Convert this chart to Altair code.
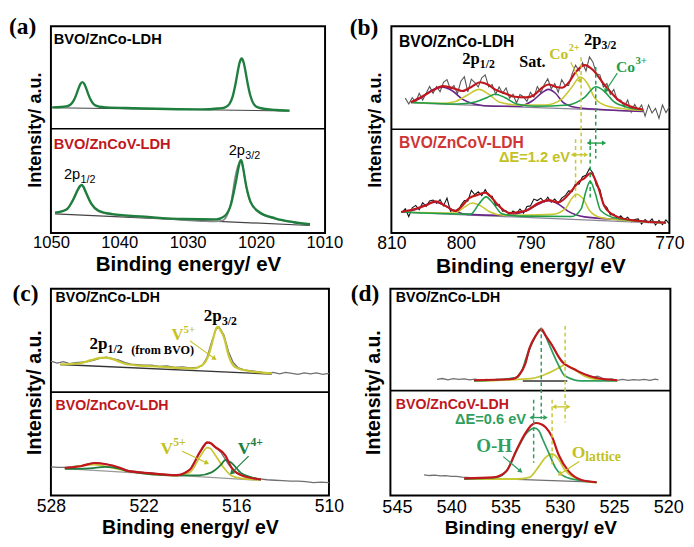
import math
import altair as alt
import pandas as pd

SANS = "Liberation Sans"
SERIF = "Liberation Serif"
RED = "#c0161c"
RED_B = "#cf3535"
GRN_A = "#1e7e3e"
GRN = "#1f9e4a"
GRN_D = "#2f9e5e"
YEL = "#c8c834"
YEL_T = "#c2c224"
PUR = "#6a2589"
RAW = "#707070"
BASE = "#8a8596"

# ---------------- (a) Zn 2p ----------------
A_TOP_FIT_X = [1049.8, 1048.5, 1047.8, 1047.2, 1046.7, 1046.3, 1046.0, 1045.7, 1045.4, 1045.1, 1044.8, 1044.5, 1044.1, 1043.6, 1042.9, 1041.9, 1038.0, 1033.0, 1028.0, 1025.6, 1024.6, 1023.9, 1023.4, 1023.0, 1022.7, 1022.4, 1022.1, 1021.8, 1021.5, 1021.2, 1020.8, 1020.3, 1019.6, 1018.6, 1017.0, 1015.1]
A_TOP_FIT_Y = [127.7, 128.0, 128.6, 130.1, 134.2, 140.4, 146.2, 151.3, 153.3, 151.3, 146.2, 140.4, 134.2, 130.0, 128.3, 127.6, 126.8, 126.0, 125.6, 126.5, 127.5, 130.9, 139.1, 151.4, 162.9, 173.1, 177.3, 173.0, 162.7, 151.2, 138.9, 130.7, 127.3, 126.0, 125.0, 124.3]
A_TOP_BASE_X = [1049.8, 1015.1]
A_TOP_BASE_Y = [127.3, 124.0]
A_BOT_RAW_X = [1049.4, 1047.7, 1046.8, 1046.0, 1045.5, 1044.9, 1044.1, 1043.0, 1041.0, 1036.3, 1030.6, 1027.5, 1026.0, 1025.0, 1024.3, 1023.6, 1023.1, 1022.6, 1022.2, 1021.9, 1021.4, 1020.8, 1019.6, 1017.2, 1014.4, 1012.1]
A_BOT_RAW_Y = [20.2, 24.5, 32.5, 44.0, 48.5, 41.0, 29.5, 22.0, 18.8, 16.0, 13.2, 12.0, 11.8, 12.5, 17.0, 33.0, 55.0, 69.0, 73.5, 66.0, 46.0, 31.0, 21.0, 14.6, 10.6, 8.6]
A_BOT_FIT_X = [1049.4, 1047.7, 1046.8, 1046.0, 1045.75, 1045.5, 1045.25, 1044.9, 1044.1, 1043.0, 1041.0, 1036.3, 1030.6, 1025.8, 1024.6, 1023.7, 1023.0, 1022.5, 1022.35, 1022.2, 1022.05, 1021.9, 1021.4, 1020.8, 1019.6, 1017.2, 1014.4, 1012.1]
A_BOT_FIT_Y = [20.7, 24.0, 33.3, 45.0, 47.8, 49.0, 47.2, 41.7, 30.0, 22.7, 19.3, 16.7, 14.3, 14.0, 17.3, 28.3, 50.0, 68.3, 72.5, 74.3, 72.0, 66.7, 46.7, 31.7, 21.7, 15.0, 11.0, 9.0]
A_BOT_BASE_X = [1049.4, 1012.1]
A_BOT_BASE_Y = [19.5, 7.7]
A_TICKS = [1050, 1040, 1030, 1020, 1010]

# ---------------- (b) Co 2p ----------------
B_RAW_X_TOP = [808.0, 807.5, 807.0, 806.5, 806.0, 805.5, 805.0, 804.5, 804.0, 803.5, 803.0, 802.5, 802.0, 801.5, 801.0, 800.5, 800.0, 799.5, 799.0, 798.5, 798.0, 797.5, 797.0, 796.5, 796.0, 795.5, 795.0, 794.5, 794.0, 793.5, 793.0, 792.5, 792.0, 791.5, 791.0, 790.5, 790.0, 789.5, 789.0, 788.5, 788.0, 787.5, 787.0, 786.5, 786.0, 785.5, 785.0, 784.5, 784.0, 783.5, 783.0, 782.5, 782.0, 781.5, 781.0, 780.5, 780.0, 779.5, 779.0, 778.5, 778.0, 777.5, 777.0, 776.5, 776.0, 775.5, 775.0, 774.5, 774.0, 773.5, 773.0, 772.5, 772.0, 771.5, 771.0, 770.5, 770.0]
B_RAW_Y_TOP = [139, 133, 139.5, 135, 144, 137, 144, 151, 144, 151, 145.5, 155.3, 158, 148, 152, 143.5, 156.5, 161, 145.5, 158.5, 155, 150.5, 160, 163, 150.5, 153, 143, 150.5, 144, 149.5, 139, 143, 134, 142.7, 140.5, 135.7, 145, 140, 151, 144.5, 153, 159, 148.5, 154, 145, 158, 152, 152, 164, 173, 167, 175.5, 167, 181.5, 176, 164, 163, 150.5, 154, 143, 148, 137, 137, 130, 137, 124.5, 132.5, 126.7, 132, 120.5, 132, 123.7, 128.5, 118.2, 132, 124, 130]
B_RAW_X_BOT = [808.5] + B_RAW_X_TOP
B_RAW_Y_BOT = [21, 25, 17, 26, 28.5, 24, 31.3, 27.5, 33, 34, 30.7, 34.5, 28, 36, 22.5, 24, 21, 28.7, 33.5, 33, 44, 39.5, 42.5, 38.5, 44.7, 38.5, 38, 28.5, 29.5, 22.5, 23, 18.7, 22.8, 20.3, 24.8, 20.5, 27.5, 28, 35, 33.5, 36, 32, 37, 31.8, 35, 30.7, 36, 38.5, 43.5, 42.8, 51, 50.5, 58, 59.5, 66.5, 62, 49, 45, 29.5, 26.5, 18.7, 19.5, 14.7, 17.8, 14, 16.3, 11.7, 14, 14.6, 9.3, 14, 10.8, 14.5, 8.2, 13, 8.8, 13.7, 9.5]

B_TOP_ENV_X = [807.2, 805.5, 804.0, 802.6, 801.0, 799.8, 798.5, 797.2, 796.0, 795.1, 793.5, 792.5, 790.6, 789.5, 788.3, 787.4, 786.3, 785.5, 784.5, 783.6, 782.2, 781.0, 779.4, 778.3, 777.5, 775.7, 773.8]
B_TOP_ENV_Y = [134.7, 141.0, 147.0, 151.3, 149.0, 146.3, 150.5, 155.3, 152.5, 148.0, 143.5, 140.7, 139.7, 142.0, 149.7, 153.0, 150.5, 149.7, 155.0, 164.7, 173.0, 168.0, 153.0, 144.0, 138.0, 130.7, 127.3]
B_TOP_PUR_X = [807.2, 805.6, 804.2, 802.6, 801.2, 799.8, 798.1, 795.3, 791.7, 789.7, 788.3, 787.4, 786.4, 785.3, 783.6, 779.9, 773.8]
B_TOP_PUR_Y = [134.7, 139.7, 147.3, 150.3, 146.3, 138.0, 133.0, 130.7, 130.7, 136.3, 144.7, 148.0, 144.0, 134.7, 129.7, 127.3, 125.3]
B_TOP_YEL_X = [807.2, 803.0, 800.9, 799.1, 797.4, 796.0, 794.4, 791.7, 787.8, 785.5, 784.1, 782.8, 781.7, 780.8, 779.4, 776.6, 773.8]
B_TOP_YEL_Y = [134.7, 133.6, 135.3, 142.0, 148.0, 143.0, 134.7, 132.0, 132.0, 138.0, 149.7, 160.7, 153.0, 139.7, 132.0, 128.0, 126.3]
B_TOP_GRN_X = [807.2, 800.5, 798.1, 796.2, 795.1, 793.7, 792.0, 789.2, 784.6, 782.2, 780.6, 779.4, 778.0, 776.1, 773.8]
B_TOP_GRN_Y = [134.7, 132.9, 134.7, 139.7, 143.0, 139.7, 133.0, 130.7, 132.0, 139.7, 150.7, 146.3, 135.3, 129.7, 127.0]
B_TOP_BASE_X = [807.2, 773.8]
B_TOP_BASE_Y = [134.0, 125.3]

B_BOT_ENV_X = [808.6, 806.5, 805.1, 803.7, 801.9, 800.9, 800.0, 798.8, 797.6, 796.5, 795.5, 794.8, 793.9, 793.0, 791.6, 790.6, 788.8, 787.4, 786.0, 784.1, 783.2, 782.2, 781.3, 780.3, 779.4, 778.5, 777.5, 774.7, 770.5]
B_BOT_ENV_Y = [21.7, 25.0, 28.3, 32.7, 26.7, 22.7, 26.7, 36.0, 39.3, 41.7, 36.0, 30.0, 24.0, 20.7, 21.7, 23.3, 31.0, 34.0, 31.7, 43.3, 51.7, 56.7, 61.7, 48.3, 28.3, 20.7, 16.7, 12.7, 10.7]
B_BOT_PUR_X = [808.6, 806.5, 805.1, 803.7, 802.3, 800.9, 799.1, 793.9, 790.6, 788.8, 787.4, 786.0, 784.6, 782.2, 777.5, 770.5]
B_BOT_PUR_Y = [21.7, 24.3, 29.0, 31.7, 28.3, 22.7, 19.3, 18.3, 22.7, 30.0, 33.3, 30.0, 22.7, 16.7, 14.0, 10.7]
B_BOT_YEL_X = [808.6, 800.9, 799.5, 798.4, 797.2, 795.8, 793.9, 786.9, 785.0, 784.1, 783.4, 782.4, 781.5, 779.9, 776.6, 770.5]
B_BOT_YEL_Y = [21.7, 20.7, 26.7, 31.0, 28.3, 21.7, 18.3, 19.3, 25.0, 35.0, 40.0, 35.0, 23.3, 16.0, 13.3, 10.7]
B_BOT_GRN_X = [808.6, 798.6, 797.4, 796.4, 795.3, 794.1, 791.6, 784.1, 782.7, 782.0, 781.4, 780.7, 779.9, 777.5, 770.5]
B_BOT_GRN_Y = [21.7, 19.5, 30.0, 37.3, 30.0, 20.0, 17.5, 17.0, 25.0, 43.3, 53.3, 41.7, 23.3, 15.0, 10.7]
B_BOT_BASE_X = [808.6, 770.5]
B_BOT_BASE_Y = [21.5, 10.0]
B_TICKS = [810, 800, 790, 780, 770]

# ---------------- (c) V 2p ----------------
C_TOP_RAW_X = [528.0, 527.6, 527.2, 526.8, 526.4, 526.0, 525.6, 525.2, 524.8, 524.4, 524.0, 523.6, 523.2, 522.8, 522.4, 522.0, 521.5, 521.0, 520.5, 520.0, 519.5, 519.0, 518.5, 518.2, 517.9, 517.6, 517.3, 517.1, 516.8, 516.5, 516.2, 515.9, 515.5, 515.0, 514.5, 514.0, 513.6, 513.2, 512.8, 512.4, 512.0, 511.6, 511.2, 510.8, 510.4, 510.0]
C_TOP_RAW_Y = [136.5, 134.5, 136.0, 134.0, 135.0, 135.5, 136.0, 137.5, 139.5, 140.5, 139.0, 137.5, 135.0, 133.5, 133.0, 132.5, 132.5, 131.0, 131.5, 130.0, 130.5, 129.5, 130.0, 132.0, 140.0, 156.0, 169.0, 171.0, 163.0, 146.0, 135.0, 130.0, 127.5, 126.5, 125.5, 124.0, 125.0, 123.5, 125.0, 124.0, 123.0, 124.5, 123.5, 124.5, 123.0, 124.0]
C_TOP_YEL_X = [527.4, 526.2, 525.4, 524.9, 524.5, 524.1, 523.7, 523.1, 520.9, 518.8, 518.2, 517.8, 517.5, 517.35, 517.2, 517.05, 516.8, 516.5, 516.1, 515.3, 513.7]
C_TOP_YEL_Y = [133.0, 134.0, 137.5, 139.5, 140.0, 139.0, 136.7, 133.3, 130.7, 129.0, 132.3, 142.3, 159.0, 168.0, 171.3, 168.5, 160.7, 142.3, 130.7, 126.7, 124.0]
C_TOP_BASE_X = [527.4, 513.7]
C_TOP_BASE_Y = [133.0, 123.3]
C_BOT_RAW_X = [528.0, 527.5, 527.0, 526.5, 526.0, 525.5, 525.0, 524.5, 524.0, 523.5, 523.0, 522.5, 522.0, 521.5, 521.0, 520.5, 520.0, 519.5, 519.0, 518.5, 518.0, 517.75, 517.5, 517.0, 516.5, 516.0, 515.5, 515.0, 514.5, 514.0, 513.5, 513.0, 512.5, 512.0, 511.5, 511.0, 510.5, 510.0]
C_BOT_RAW_Y = [29.0, 28.5, 28.5, 29.5, 30.5, 32.5, 33.5, 32.0, 30.5, 28.0, 25.5, 24.5, 23.5, 23.0, 22.0, 21.5, 21.0, 21.5, 26.5, 40.0, 52.0, 54.0, 51.0, 44.0, 31.5, 23.5, 20.0, 18.5, 17.0, 16.0, 15.5, 15.0, 14.5, 14.5, 14.0, 13.0, 13.5, 13.0]
C_BOT_ENV_X = [527.1, 526.0, 525.2, 524.5, 523.5, 523.1, 521.5, 519.9, 519.0, 518.4, 518.1, 517.9, 517.65, 517.4, 516.7, 516.3, 515.7, 514.4]
C_BOT_ENV_Y = [28.0, 30.0, 33.0, 32.0, 28.0, 25.3, 22.5, 20.7, 26.3, 43.0, 50.5, 54.0, 53.0, 49.7, 40.5, 28.0, 20.7, 16.3]
C_BOT_YEL_X = [527.1, 525.2, 524.3, 523.1, 519.9, 519.0, 518.4, 518.1, 517.9, 517.7, 517.4, 516.9, 516.3, 515.7, 514.4]
C_BOT_YEL_Y = [27.3, 31.3, 29.0, 25.0, 20.3, 23.5, 38.0, 45.5, 48.7, 48.0, 42.0, 30.0, 20.0, 17.5, 16.0]
C_BOT_GRN_X = [527.1, 525.5, 524.5, 523.5, 523.1, 519.9, 518.4, 517.6, 517.0, 516.7, 516.3, 515.7, 515.0, 514.4]
C_BOT_GRN_Y = [27.0, 27.5, 29.0, 27.0, 25.0, 20.3, 20.5, 23.5, 31.0, 36.3, 33.0, 23.0, 18.3, 16.3]
C_BOT_BASE_X = [527.1, 514.4]
C_BOT_BASE_Y = [27.3, 15.3]
C_TICKS = [528, 522, 516, 510]

# ---------------- (d) O 1s ----------------
D_TOP_RAW_X = [541.3, 540.8, 540.3, 539.8, 539.3, 538.8, 538.3, 537.8, 537.3, 536.8, 536.3, 535.8, 535.3, 534.8, 534.3, 533.9, 533.5, 533.1, 532.7, 532.3, 531.9, 531.6, 531.3, 530.9, 530.5, 530.1, 529.7, 529.3, 528.9, 528.5, 528.1, 527.7, 527.3, 526.9, 526.5, 526.1, 525.7, 525.2, 524.7, 524.2, 523.7, 523.2, 522.7, 522.2, 521.7, 521.2, 520.9]
D_TOP_RAW_Y = [119.7, 120.5, 119.2, 120.3, 119.5, 120.2, 119.0, 119.8, 118.7, 119.5, 118.8, 119.6, 119.2, 120.0, 120.3, 122.5, 129.0, 138.0, 153.5, 163.0, 170.5, 171.0, 165.0, 158.0, 151.0, 143.0, 137.5, 134.0, 131.5, 129.0, 127.0, 125.0, 123.5, 122.0, 122.8, 121.0, 119.5, 120.0, 118.7, 119.5, 118.5, 119.3, 118.8, 119.6, 118.7, 119.8, 119.2]
D_TOP_ENV_X = [537.9, 534.6, 534.1, 533.7, 533.2, 532.8, 532.2, 531.7, 531.3, 530.7, 530.2, 529.8, 529.2, 528.6, 528.0, 527.4, 526.5, 524.7]
D_TOP_ENV_Y = [118.7, 119.7, 120.7, 124.7, 134.7, 151.3, 164.7, 171.3, 164.7, 154.7, 144.7, 138.0, 133.0, 129.7, 126.3, 123.7, 120.7, 118.7]
D_TOP_GRN_X = [537.9, 534.0, 533.5, 533.1, 532.5, 532.1, 531.8, 531.4, 531.0, 530.2, 529.5, 528.0, 524.7]
D_TOP_GRN_Y = [118.0, 121.3, 128.0, 141.3, 158.0, 166.5, 170.3, 166.5, 156.3, 136.3, 123.0, 118.0, 118.0]
D_TOP_YEL_X = [537.9, 532.5, 531.0, 530.1, 529.5, 528.9, 527.7, 526.5, 524.7]
D_TOP_YEL_Y = [118.0, 120.7, 126.3, 131.3, 134.7, 131.3, 123.0, 119.3, 118.0]
D_TOP_BASE_X = [533.4, 529.3]
D_TOP_BASE_Y = [118.0, 118.0]
D_BOT_RAW_X = [542.5, 542.0, 541.5, 541.0, 540.5, 540.0, 539.5, 539.0, 538.5, 538.0, 536.0, 534.0, 532.0, 530.0, 528.0, 526.6]
D_BOT_RAW_Y = [21.3, 20.6, 21.0, 20.2, 20.4, 19.6, 19.8, 19.0, 18.7, 18.0, 17.3, 16.6, 15.9, 15.0, 14.3, 13.5]
D_BOT_ENV_X = [538.8, 536.1, 534.9, 534.0, 533.1, 532.6, 532.2, 531.7, 531.3, 530.7, 530.1, 529.2, 528.0, 526.6]
D_BOT_ENV_Y = [17.7, 18.7, 25.3, 46.5, 65.3, 72.5, 74.7, 73.5, 70.3, 60.3, 42.0, 25.3, 16.0, 13.7]
D_BOT_GRN_X = [538.8, 535.8, 534.9, 534.0, 533.1, 532.6, 532.3, 531.9, 531.6, 531.0, 530.4, 529.5, 528.0, 526.6]
D_BOT_GRN_Y = [17.0, 18.7, 25.3, 45.3, 63.7, 68.5, 69.3, 66.5, 58.7, 43.7, 28.7, 19.3, 15.3, 13.7]
D_BOT_YEL_X = [538.8, 534.0, 532.8, 531.9, 531.3, 530.7, 530.2, 529.5, 528.6, 526.6]
D_BOT_YEL_Y = [17.0, 17.0, 18.7, 30.3, 39.3, 43.0, 38.7, 26.0, 18.0, 13.0]
D_TICKS = [545, 540, 535, 530, 525, 520]


class Panel:
    def __init__(self, dom, H, width, height, ticks, lab_size, xt_size, yt_size):
        self.dom, self.H, self.w, self.h = dom, H, width, height
        self.xs = alt.Scale(domain=dom, nice=False, zero=False)
        self.ys = alt.Scale(domain=[0, H], nice=False, zero=False)
        self.xax = alt.Axis(values=ticks, title="Binding energy/ eV", format="d",
                            labelFont=SANS, labelFontSize=lab_size, labelColor="black",
                            labelFlush=False, labelOverlap=False, labelPadding=2,
                            ticks=False, domain=False, grid=False,
                            titleFont=SANS, titleFontSize=xt_size, titleFontWeight="bold",
                            titleColor="black", titlePadding=3)
        self.yax = alt.Axis(title="Intensity/ a.u.", labels=False, ticks=False, domain=False,
                            grid=False, titleFont=SANS, titleFontSize=yt_size,
                            titleFontWeight="bold", titleColor="black", titlePadding=7)
        self.layers = []

    def X(self):
        return alt.X("x:Q", scale=self.xs, axis=self.xax)

    def Y(self):
        return alt.Y("y:Q", scale=self.ys, axis=self.yax)

    def sx(self, d):
        return d * self.w / (self.dom[1] - self.dom[0])

    def sy(self, d):
        return -d * self.h / self.H

    def line(self, xs, ys, color, width=2.0, interp="monotone"):
        assert len(xs) == len(ys)
        df = pd.DataFrame({"x": xs, "y": ys})
        self.layers.append(alt.Chart(df).mark_line(color=color, strokeWidth=width,
                                                   interpolate=interp).encode(x=self.X(), y=self.Y()))

    def text(self, x, y, s, size, color="black", font=SANS, weight="bold", align="left", dx=0, dy=0):
        df = pd.DataFrame({"x": [x], "y": [y], "t": [s]})
        self.layers.append(alt.Chart(df).mark_text(font=font, fontSize=size, fontWeight=weight,
                                                   color=color, align=align, baseline="alphabetic",
                                                   dx=dx, dy=dy).encode(x=self.X(), y=self.Y(), text="t:N"))

    def divider(self, y):
        df = pd.DataFrame({"y": [y]})
        self.layers.append(alt.Chart(df).mark_rule(color="black", strokeWidth=1.6).encode(y=self.Y()))

    def vdash(self, x, y1, y2, color, width=1.5):
        df = pd.DataFrame({"x": [x], "y": [y1], "y2": [y2]})
        self.layers.append(alt.Chart(df).mark_rule(color=color, strokeWidth=width, strokeDash=[4, 3])
                           .encode(x=self.X(), y=self.Y(), y2="y2:Q"))

    def arrow(self, x1, y1, x2, y2, color, width=1.2, size=30):
        df = pd.DataFrame({"x": [x1], "y": [y1], "x2": [x2], "y2": [y2]})
        self.layers.append(alt.Chart(df).mark_rule(color=color, strokeWidth=width)
                           .encode(x=self.X(), y=self.Y(), x2="x2:Q", y2="y2:Q"))
        ang = math.degrees(math.atan2(self.sx(x2 - x1), -self.sy(y2 - y1))) % 360
        dh = pd.DataFrame({"x": [x2], "y": [y2]})
        self.layers.append(alt.Chart(dh).mark_point(shape="triangle-up", filled=True, size=size,
                                                    angle=ang, color=color, opacity=1, strokeWidth=0)
                           .encode(x=self.X(), y=self.Y()))

    def darrow(self, xl, xr, y, color, size=26):
        df = pd.DataFrame({"x": [xl], "y": [y], "x2": [xr]})
        self.layers.append(alt.Chart(df).mark_rule(color=color, strokeWidth=1.4)
                           .encode(x=self.X(), y=self.Y(), x2="x2:Q"))
        for xv, shp in ((xl, "triangle-left"), (xr, "triangle-right")):
            dh = pd.DataFrame({"x": [xv], "y": [y]})
            self.layers.append(alt.Chart(dh).mark_point(shape=shp, filled=True, size=size, color=color,
                                                        opacity=1, strokeWidth=0)
                               .encode(x=self.X(), y=self.Y()))

    def tag(self, s, dx, dy):
        df = pd.DataFrame({"t": [s]})
        self.layers.append(alt.Chart(df).mark_text(font=SERIF, fontSize=24, fontWeight="bold",
                                                   color="black", align="center", baseline="middle")
                           .encode(x=alt.value(dx), y=alt.value(dy), text="t:N"))

    def chart(self):
        return alt.layer(*self.layers).properties(width=self.w, height=self.h)


# ---------- panel (a)
A = Panel([1050, 1009.9], 210, 281, 212, A_TICKS, 17, 21, 18.5)
A.line(A_TOP_BASE_X, A_TOP_BASE_Y, "#444444", 1.2, "linear")
A.line(A_TOP_FIT_X, A_TOP_FIT_Y, GRN_A, 2.4)
A.line(A_BOT_BASE_X, A_BOT_BASE_Y, "#444444", 1.2, "linear")
A.line(A_BOT_RAW_X, A_BOT_RAW_Y, "#8a8a8a", 1.6)
A.line(A_BOT_FIT_X, A_BOT_FIT_Y, GRN_A, 2.4)
A.divider(106)
A.text(1049.6, 192, "BVO/ZnCo-LDH", 15)
A.text(1049.6, 85, "BVO/ZnCoV-LDH", 15, color=RED)
A.text(1048.1, 55, "2p", 15, weight="normal")
A.text(1048.1, 55, "1/2", 11, weight="normal", dx=17, dy=4)
A.text(1024.0, 79, "2p", 15, weight="normal")
A.text(1024.0, 79, "3/2", 11, weight="normal", dx=17, dy=4)
A.tag("(a)", -29, 1)

# ---------- panel (b)
B = Panel([810, 770], 213, 285, 212, B_TICKS, 18, 21.5, 18.5)
B.line(B_RAW_X_TOP, B_RAW_Y_TOP, "#555555", 1.1, "linear")
B.line(B_TOP_BASE_X, B_TOP_BASE_Y, BASE, 1.3, "linear")
B.line(B_TOP_PUR_X, B_TOP_PUR_Y, PUR, 1.6)
B.line(B_TOP_YEL_X, B_TOP_YEL_Y, YEL, 1.6)
B.line(B_TOP_GRN_X, B_TOP_GRN_Y, GRN, 1.6)
B.line(B_TOP_ENV_X, B_TOP_ENV_Y, RED, 2.2)
B.line(B_RAW_X_BOT, B_RAW_Y_BOT, "#111111", 1.1, "linear")
B.line(B_BOT_BASE_X, B_BOT_BASE_Y, BASE, 1.3, "linear")
B.line(B_BOT_PUR_X, B_BOT_PUR_Y, PUR, 1.6)
B.line(B_BOT_YEL_X, B_BOT_YEL_Y, YEL, 1.6)
B.line(B_BOT_GRN_X, B_BOT_GRN_Y, GRN, 1.6)
B.line(B_BOT_ENV_X, B_BOT_ENV_Y, RED, 2.2)
B.divider(107)
B.vdash(782.7, 181, 71.7, YEL)
B.vdash(780.6, 171, 76.7, GRN)
B.vdash(783.5, 96.7, 33, YEL)
B.vdash(781.4, 96.7, 36.7, GRN)
B.darrow(783.9, 782.0, 80.7, YEL)
B.darrow(781.6, 779.4, 92.7, GRN)
B.text(808.9, 191.3, "BVO/ZnCo-LDH", 16)
B.text(799.8, 174, "2p", 17, font=SERIF)
B.text(799.8, 174, "1/2", 12, font=SERIF, dx=18, dy=4)
B.text(791.6, 171, "Sat.", 16.5, font=SERIF)
B.text(787.3, 179, "Co", 16, color=YEL_T, font=SERIF)
B.text(787.3, 179, "2+", 10.5, color=YEL_T, font=SERIF, dx=20, dy=-8)
B.text(782.3, 194, "2p", 17, font=SERIF)
B.text(782.3, 194, "3/2", 12, font=SERIF, dx=18, dy=4)
B.text(777.7, 166, "Co", 16, color=GRN, font=SERIF)
B.text(777.7, 166, "3+", 11, color=GRN, font=SERIF, dx=20, dy=-8)
B.arrow(784.2, 176, 782.8, 156.3, YEL_T)
B.arrow(777.5, 164.7, 779.2, 146.3, GRN)
B.text(808.9, 87.3, "BVO/ZnCoV-LDH", 16, color=RED_B)
B.text(784.3, 73.3, "ΔE=1.2 eV", 15, color=YEL_T, align="right")
B.tag("(b)", -28, 1.5)

# ---------- panel (c)
C = Panel([528, 510], 210, 285, 212, C_TICKS, 18, 20, 20)
C.line(C_TOP_RAW_X, C_TOP_RAW_Y, RAW, 1.3, "linear")
C.line(C_TOP_BASE_X, C_TOP_BASE_Y, "#333333", 1.4, "linear")
C.line(C_TOP_YEL_X, C_TOP_YEL_Y, YEL, 2.2)
C.line(C_BOT_RAW_X, C_BOT_RAW_Y, RAW, 1.3, "linear")
C.line(C_BOT_BASE_X, C_BOT_BASE_Y, "#999999", 1.2, "linear")
C.line(C_BOT_YEL_X, C_BOT_YEL_Y, YEL, 1.8)
C.line(C_BOT_GRN_X, C_BOT_GRN_Y, GRN_A, 1.8)
C.line(C_BOT_ENV_X, C_BOT_ENV_Y, RED, 2.2)
C.divider(105)
C.text(527.7, 196.3, "BVO/ZnCo-LDH", 14.5)
C.text(518.1, 177, "2p", 17.5, font=SERIF)
C.text(518.1, 177, "3/2", 12, font=SERIF, dx=18.5, dy=4)
C.text(525.5, 149, "2p", 17.5, font=SERIF)
C.text(525.5, 149, "1/2", 12, font=SERIF, dx=18.5, dy=4)
C.text(522.8, 144, "(from BVO)", 12.5, font=SERIF)
C.text(520.2, 158, "V", 17, color=YEL_T, font=SERIF)
C.text(520.2, 158, "5+", 11, color=YEL_T, font=SERIF, dx=12.5, dy=-7)
C.arrow(519.0, 157, 517.4, 139, YEL_T)
C.text(527.7, 87, "BVO/ZnCoV-LDH", 14.5, color=RED)
C.text(520.9, 42, "V", 18, color=YEL_T, font=SERIF)
C.text(520.9, 42, "5+", 12, color=YEL_T, font=SERIF, dx=13, dy=-8)
C.arrow(519.5, 45, 517.9, 33, YEL_T)
C.text(515.9, 42, "V", 18, color=GRN_A, font=SERIF)
C.text(515.9, 42, "4+", 12, color=GRN_A, font=SERIF, dx=13, dy=-8)
C.arrow(515.2, 40, 516.3, 23, GRN_A)
C.tag("(c)", -26, 6)

# ---------- panel (d)
D = Panel([545.6, 519.8], 213, 287, 212, D_TICKS, 18.5, 19.5, 20)
D.line(D_TOP_RAW_X, D_TOP_RAW_Y, RAW, 1.3, "linear")
D.line(D_TOP_BASE_X, D_TOP_BASE_Y, "#333333", 1.6, "linear")
D.line(D_TOP_YEL_X, D_TOP_YEL_Y, YEL, 1.8)
D.line(D_TOP_GRN_X, D_TOP_GRN_Y, GRN_D, 1.8)
D.line(D_TOP_ENV_X, D_TOP_ENV_Y, RED, 2.2)
D.line(D_BOT_RAW_X, D_BOT_RAW_Y, RAW, 1.3, "linear")
D.line(D_BOT_YEL_X, D_BOT_YEL_Y, YEL, 1.8)
D.line(D_BOT_GRN_X, D_BOT_GRN_Y, GRN_D, 1.8)
D.line(D_BOT_ENV_X, D_BOT_ENV_Y, RED, 2.2)
D.divider(108)
D.vdash(531.7, 173, 78.7, GRN_D)
D.vdash(529.5, 174.7, 75.3, YEL)
D.vdash(532.4, 98.7, 33.7, GRN_D)
D.vdash(530.7, 98.7, 32, YEL)
D.darrow(532.6, 531.3, 80.3, GRN_D)
D.darrow(530.5, 529.2, 91.3, YEL)
D.text(545.1, 199, "BVO/ZnCo-LDH", 14.5)
D.text(545.1, 89.3, "BVO/ZnCoV-LDH", 14.5, color=RED)
D.text(533.1, 74, "ΔE=0.6 eV", 15, color=GRN_D, align="right")
D.text(537.7, 45, "O-H", 19.5, color=GRN_D, font=SERIF)
D.text(528.9, 39, "O", 18, color=YEL_T, font=SERIF)
D.text(528.9, 39, "lattice", 14, color=YEL_T, font=SERIF, dx=14, dy=3)
D.arrow(535.2, 40, 533.6, 25, GRN_D)
D.arrow(528.2, 35, 530.0, 22, YEL_T)
D.tag("(d)", -26, 6)

row1 = alt.hconcat(A.chart(), B.chart(), spacing=4)
row2 = alt.hconcat(C.chart(), D.chart(), spacing=4)
chart = alt.vconcat(row1, row2, spacing=4).properties(
    padding={"left": 0, "top": 0, "right": 0, "bottom": 0}
).configure_view(stroke="black", strokeWidth=2)

chart.save("out.html", embed_options={"renderer": "svg", "actions": False})
